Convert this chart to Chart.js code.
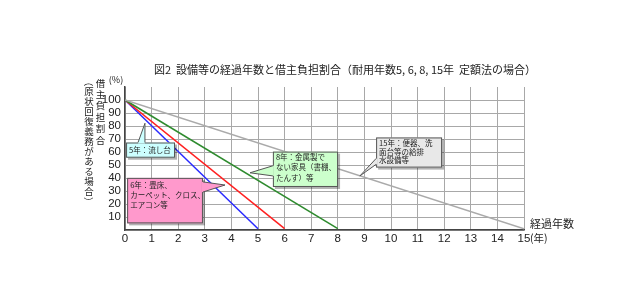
<!DOCTYPE html>
<html><head><meta charset="utf-8">
<script src="https://cdn.jsdelivr.net/npm/chart.js@4.4.1/dist/chart.umd.min.js"></script>
<style>html,body{margin:0;padding:0;background:#fff}#wrap{width:640px;height:300px}</style>
</head><body><div id="wrap"><canvas id="c" width="640" height="300"></canvas></div>
<script>
// ---- text ----
const titleText = '図2  設備等の経過年数と借主負担割合（耐用年数5, 6, 8, 15年  定額法の場合）';
const yTitleMain = '借主負担割合';
const yTitleSub = '（原状回復義務がある場合）';
const xTitle = '経過年数';
const xUnit = '(年)';
const yUnit = '(%)';

// ---- ticks ----
const xTickValues = [0,1,2,3,4,5,6,7,8,9,10,11,12,13,14,15];
const yTickValues = [10,20,30,40,50,60,70,80,90,100];

// ---- series (elapsed years -> tenant burden %) ----
const years5 = [0, 5];   const ratio5 = [100, 1];
const years6 = [0, 6];   const ratio6 = [100, 1];
const years8 = [0, 8];   const ratio8 = [100, 1];
const years15 = [0, 15]; const ratio15 = [100, 1];

// ---- callout texts ----
const note5 = ['5年：流し台'];
const note6 = ['6年：畳床、', 'カーペット、クロス、', 'エアコン等'];
const note8 = ['8年：金属製で', 'ない家具（書棚、', 'たんす）等'];
const note15 = ['15年：便器、洗', '面台等の給排', '水設備等'];

const pts = (xs, ys) => xs.map((x, i) => ({x: x, y: ys[i]}));

const FONT = "'Liberation Sans Narrow','Liberation Sans','Noto Sans CJK JP',sans-serif";
const JFONT = "'Noto Sans CJK JP','Liberation Sans',sans-serif";

// callout layout in data units (x: years, y: %)
const callouts = [
  {lines: note5, fill: '#ccffff', x0: 0.04, x1: 1.88, y0: 55.6, y1: 67.3, lh: 10, ty: 61.3,
   b1: [0.49, 67.3], b2: [0.75, 67.3], tip: [0.75, 82.1]},
  {lines: note6, fill: '#ff99cc', x0: 0.08, x1: 2.93, y0: 5.1, y1: 40.1, lh: 10, ty: 34.4,
   b1: [2.93, 37.0], b2: [2.93, 29.2], tip: [3.76, 34.6]},
  {lines: note8, fill: '#ccffcc', x0: 5.56, x1: 8.01, y0: 33.1, y1: 60.3, lh: 10.5, ty: 56.3,
   b1: [5.56, 49.4], b2: [5.56, 41.6], tip: [4.70, 44.0]},
  {lines: note15, fill: '#e8e8e8', x0: 9.44, x1: 11.92, y0: 48.0, y1: 71.2, lh: 8.8, ty: 66.9,
   b1: [9.44, 55.0], b2: [9.44, 50.5], tip: [8.83, 41.6]}
];

const decor = {
  id: 'decor',
  afterDatasetsDraw(chart) {
    const ctx = chart.ctx;
    const xs = chart.scales.x, ys = chart.scales.y;
    const X = v => xs.getPixelForValue(v), Y = v => ys.getPixelForValue(v);
    ctx.save();
    callouts.forEach(c => {
      const l = X(c.x0), r = X(c.x1), t = Y(c.y1), b = Y(c.y0);
      const p1 = [X(c.b1[0]), Y(c.b1[1])], p2 = [X(c.b2[0]), Y(c.b2[1])], tp = [X(c.tip[0]), Y(c.tip[1])];
      ctx.fillStyle = 'rgba(0,0,0,0.3)';
      ctx.fillRect(l + 2, t + 2, r - l, b - t);
      ctx.fillStyle = c.fill;
      ctx.beginPath(); ctx.moveTo(p1[0], p1[1]); ctx.lineTo(tp[0], tp[1]); ctx.lineTo(p2[0], p2[1]); ctx.closePath(); ctx.fill();
      ctx.fillRect(l, t, r - l, b - t);
      ctx.strokeStyle = '#555'; ctx.lineWidth = 1;
      ctx.strokeRect(l + 0.5, t + 0.5, r - l - 1, b - t - 1);
      ctx.strokeStyle = c.fill; ctx.lineWidth = 2;
      ctx.beginPath(); ctx.moveTo(p1[0], p1[1]); ctx.lineTo(p2[0], p2[1]); ctx.stroke();
      ctx.strokeStyle = '#555'; ctx.lineWidth = 1;
      ctx.beginPath(); ctx.moveTo(p1[0], p1[1]); ctx.lineTo(tp[0], tp[1]); ctx.lineTo(p2[0], p2[1]); ctx.stroke();
      ctx.fillStyle = '#222'; ctx.font = '7.5px ' + JFONT; ctx.textAlign = 'left'; ctx.textBaseline = 'middle';
      c.lines.forEach((s, i) => ctx.fillText(s, l + 3, Y(c.ty) + i * c.lh));
    });
    ctx.fillStyle = '#222';
    ctx.font = '11px ' + JFONT; ctx.textAlign = 'center'; ctx.textBaseline = 'middle';
    ctx.fillText(titleText, 345, 70);
    ctx.font = '9px ' + JFONT;
    ctx.fillText(yUnit, 116, 80);
    ctx.font = '11px ' + JFONT; ctx.textAlign = 'left';
    ctx.fillText(xTitle, 530, 224);
    ctx.font = '10.5px ' + JFONT;
    ctx.fillText(xUnit, 530, 238);
    const vert = (text, x, y0, step, size) => {
      ctx.font = size + 'px ' + JFONT; ctx.textAlign = 'center'; ctx.textBaseline = 'middle';
      [...text].forEach((ch, i) => {
        const y = y0 + i * step;
        if (ch === '（' || ch === '）') {
          ctx.save(); ctx.translate(x, y); ctx.rotate(Math.PI / 2); ctx.fillText(ch, 0, 0); ctx.restore();
        } else ctx.fillText(ch, x, y);
      });
    };
    vert(yTitleMain, 100.5, 83, 11.4, 9.5);
    vert(yTitleSub, 89, 81.7, 10, 9.5);
    ctx.restore();
  }
};

new Chart(document.getElementById('c'), {
  type: 'line',
  data: {
    datasets: [
      {label: '15年', data: pts(years15, ratio15), borderColor: '#aaaaaa'},
      {label: '8年', data: pts(years8, ratio8), borderColor: '#2e8b2e'},
      {label: '6年', data: pts(years6, ratio6), borderColor: '#ff2020'},
      {label: '5年', data: pts(years5, ratio5), borderColor: '#2a2aff'}
    ].map(d => Object.assign(d, {borderWidth: 1.5, pointRadius: 0, tension: 0, fill: false}))
  },
  options: {
    responsive: false, animation: false, devicePixelRatio: 1,
    layout: {padding: {left: 0, top: 87, right: 116, bottom: 50}},
    plugins: {legend: {display: false}, tooltip: {enabled: false}, title: {display: false}},
    scales: {
      x: {
        type: 'linear', min: 0, max: 15,
        afterBuildTicks: s => { s.ticks = xTickValues.map(v => ({value: v})); },
        afterFit: s => { s.height = 20; },
        ticks: {color: '#222', font: {size: 11.5, family: FONT}, padding: 2, maxRotation: 0, autoSkip: false},
        grid: {color: '#a8a8a8', lineWidth: 1, drawTicks: false},
        border: {color: '#444', width: 1.5}
      },
      y: {
        type: 'linear', min: 0, max: 110,
        afterBuildTicks: s => { s.ticks = [0].concat(yTickValues, [110]).map(v => ({value: v})); },
        afterFit: s => { s.width = 125; },
        ticks: {color: '#222', font: {size: 11.5, family: FONT}, padding: 4, autoSkip: false,
                callback: v => (yTickValues.includes(v) ? String(v) : '')},
        grid: {color: c => (c.tick && c.tick.value === 110 ? 'rgba(0,0,0,0)' : '#a8a8a8'), lineWidth: 1, drawTicks: false},
        border: {color: '#444', width: 1.5}
      }
    }
  },
  plugins: [decor]
});
</script></body></html>
